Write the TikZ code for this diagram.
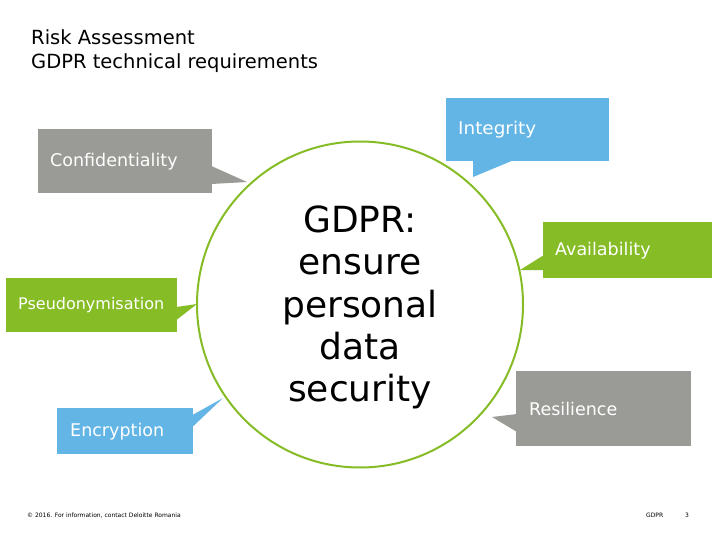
\documentclass[tikz,border=0pt]{standalone}
\usepackage{fontspec}
\setmainfont{DejaVu Sans}
\usetikzlibrary{calc}
\definecolor{dgreen}{HTML}{86BC25}
\definecolor{dblue}{HTML}{62B5E5}
\definecolor{dgray}{HTML}{9A9A96}
\tikzset{
  callout/.style={anchor=north west, inner xsep=12pt, inner ysep=0pt, text=white, align=left,
    font=\fontsize{17.5}{20}\selectfont},
  titletext/.style={anchor=base west, inner sep=0pt, font=\fontsize{19.5}{23}\selectfont},
  foot/.style={anchor=base west, inner sep=0pt, font=\fontsize{6}{7}\selectfont},
}
\begin{document}
\begin{tikzpicture}[x=1pt,y=-1pt]
\useasboundingbox (0,0) rectangle (720,540);
\fill[white] (0,0) rectangle (720,540);
% title
\node[titletext] (t1) at (31,45) {Risk Assessment};
\node[titletext] (t2) at (31,69) {GDPR technical requirements};
% circle
\node[circle, draw=dgreen, line width=2pt, minimum size=326pt, inner sep=0pt] (circ) at (360,304.5) {};
\node[align=center, inner sep=0pt, font=\fontsize{36}{42.3}\selectfont] (ctext) at (360,307.5)
  {GDPR:\\ensure\\personal\\data\\security};
% callouts
\node[callout, fill=dgray, text width=150pt, minimum height=64pt] (conf) at (38,129) {Confidentiality};
\coordinate (conftip) at (247,182);
\fill[dgray] ($(conf.north east)+(-1,37)$) -- (conftip) -- ($(conf.north east)+(-1,55)$) -- cycle;

\node[callout, fill=dblue, text width=139pt, minimum height=63pt,
  font=\fontsize{17.5}{20}\selectfont\addfontfeature{FakeStretch=1.05}] (integ) at (446,98) {Integrity};
\coordinate (integtip) at (473,177);
\fill[dblue] ($(integ.south west)+(27,-1)$) -- (integtip) -- ($(integ.south west)+(67,-1)$) -- cycle;

\node[callout, fill=dgreen, text width=145pt, minimum height=56pt] (avail) at (543,222) {Availability};
\coordinate (availtip) at (520,270);
\fill[dgreen] ($(avail.north west)+(1,33)$) -- (availtip) -- ($(avail.north west)+(1,48)$) -- cycle;

\node[callout, fill=dgreen, text width=147pt, minimum height=54pt, font=\fontsize{16}{19}\selectfont] (pseudo) at (6,278) {Pseudonymisation};
\coordinate (pseudotip) at (197,304);
\fill[dgreen] ($(pseudo.north east)+(-1,29)$) -- (pseudotip) -- ($(pseudo.north east)+(-1,42)$) -- cycle;

\node[callout, fill=dblue, inner xsep=13pt, text width=110pt, minimum height=46pt] (encr) at (57,408) {Encryption};
\coordinate (encrtip) at (223,398);
\fill[dblue] ($(encr.north east)+(-1,7)$) -- (encrtip) -- ($(encr.north east)+(-1,19)$) -- cycle;

\node[callout, fill=dgray, inner xsep=13pt, text width=149pt, minimum height=75pt] (resil) at (516,371) {Resilience};
\coordinate (resiltip) at (492,417);
\fill[dgray] ($(resil.north west)+(1,43)$) -- (resiltip) -- ($(resil.north west)+(1,61)$) -- cycle;
% footer
\node[foot] (f1) at (27,517) {© 2016. For information, contact Deloitte Romania};
\node[foot] (f2) at (646,517) {GDPR};
\node[foot] (f3) at (685,517) {3};
\end{tikzpicture}
\end{document}
